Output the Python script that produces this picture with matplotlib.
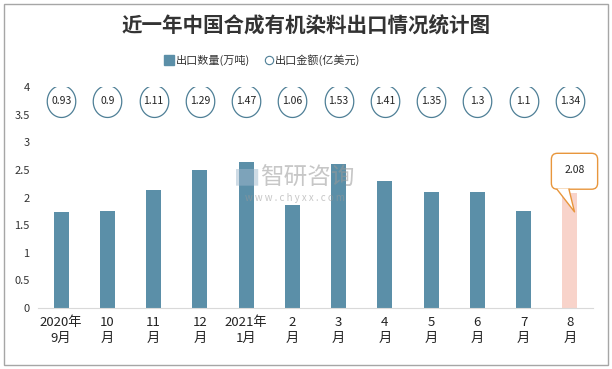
import matplotlib.pyplot as plt
import numpy as np
from matplotlib.path import Path
from matplotlib.patches import FancyBboxPatch, Polygon, Rectangle
from matplotlib.lines import Line2D

plt.rcParams['font.family'] = ['Noto Sans CJK SC', 'DejaVu Sans']

months = ['2020年\n9月', '10\n月', '11\n月', '12\n月', '2021年\n1月', '2\n月',
          '3\n月', '4\n月', '5\n月', '6\n月', '7\n月', '8\n月']
qty = [1.74, 1.76, 2.14, 2.50, 2.64, 1.86, 2.61, 2.30, 2.10, 2.10, 1.76, 2.08]
amount = [0.93, 0.9, 1.11, 1.29, 1.47, 1.06, 1.53, 1.41, 1.35, 1.3, 1.1, 1.34]
circle_y = [3.74] * 12

fig = plt.figure(figsize=(6.12, 3.69), dpi=100)
ax = fig.add_axes([38 / 612, 1 - 308 / 369, 555 / 612, 221 / 369])

x = np.arange(len(months))
colors = ['#5B8FA8'] * 11 + ['#F8D3CA']
ax.bar(x, qty, width=0.32, color=colors, zorder=2)

# elliptical marker
t = np.linspace(0, 2 * np.pi, 60)
ell = Path(np.column_stack([np.cos(t), 1.12 * np.sin(t)]), closed=True)
ax.plot(x, circle_y, linestyle='none', marker=ell, markersize=23,
        markerfacecolor='white', markeredgecolor='#4E7F96', markeredgewidth=0.9, zorder=3)
for xi, yi, v in zip(x, circle_y, amount):
    ax.text(xi, yi, f'{v:g}', ha='center', va='center', fontsize=7.5, color='#222222', zorder=4)

ax.set_xlim(-0.5, 11.5)
ax.set_ylim(0, 4)
ax.set_yticks(np.arange(0, 4.01, 0.5))
ax.set_yticklabels(['0', '0.5', '1', '1.5', '2', '2.5', '3', '3.5', '4'])
ax.set_xticks(x)
ax.set_xticklabels(months, fontsize=9.5, linespacing=1.3)
ax.tick_params(axis='y', length=0, labelsize=8, pad=6, colors='#333333')
ax.tick_params(axis='x', length=0, pad=6, colors='#222222')
for s in ['top', 'right', 'left']:
    ax.spines[s].set_visible(False)
ax.spines['bottom'].set_color('#D9D9D9')

# callout for last bar
x0, x1, y0, y1 = 10.6, 11.6, 2.15, 2.8
box = FancyBboxPatch((x0, y0), x1 - x0, y1 - y0, boxstyle='round,pad=0,rounding_size=0.13',
                     facecolor='white', edgecolor='#E8963C', linewidth=1.0, zorder=5,
                     mutation_aspect=0.85, clip_on=False)
ax.add_patch(box)
tip = (11.1, 1.74)
ax.add_patch(Polygon([[10.72, y0 + 0.01], [10.98, y0 + 0.01], tip],
                     closed=True, facecolor='white', edgecolor='none', zorder=6, clip_on=False))
ax.plot([10.72, tip[0], 10.98], [y0, tip[1], y0], color='#E8963C', lw=1.0, zorder=6, clip_on=False)
ax.text(11.1, 2.49, '2.08', ha='center', va='center', fontsize=7.5, color='#222222', zorder=7)

# watermark
fig.text(0.385, 0.505, '▆', fontsize=16, color='#9FB8CC', alpha=0.5)
fig.text(0.425, 0.50, '智研咨询', fontsize=17, color='#999999', alpha=0.55)
fig.text(0.40, 0.455, 'w w w . c h y x x . c o m', fontsize=7, color='#999999', alpha=0.55)

fig.text(0.5, 1 - 26 / 369, '近一年中国合成有机染料出口情况统计图', ha='center', va='center',
         fontsize=14.8, fontweight='bold', color='#333333')

handles = [Line2D([], [], linestyle='none', marker='s', markersize=7, color='#5B8FA8'),
           Line2D([], [], linestyle='none', marker='o', markersize=6, markerfacecolor='white',
                  markeredgecolor='#4E7F96', markeredgewidth=0.8)]
fig.legend(handles, ['出口数量(万吨)', '出口金额(亿美元)'], loc='center', ncol=2,
           bbox_to_anchor=(262 / 612, 1 - 60 / 369), frameon=False, fontsize=8,
           handletextpad=0.1, columnspacing=1.2, handlelength=1.0, labelcolor='#333333')

fig.add_artist(Rectangle((4 / 612, 4 / 369), 604 / 612, 361 / 369, transform=fig.transFigure,
                         fill=False, edgecolor='#A6A6A6', linewidth=1.0))

fig.savefig('out.png', dpi=100)
